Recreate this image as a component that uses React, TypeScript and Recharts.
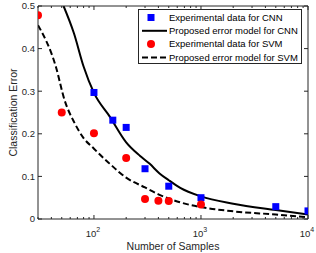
import React from "react";
import {
  ComposedChart,
  Line,
  Scatter,
  XAxis,
  YAxis,
  Legend,
} from "recharts";

// measured points
const cnnSamples = [100, 150, 200, 300, 500, 1000, 5000, 10000];
const cnnErrors = [0.297, 0.232, 0.215, 0.118, 0.077, 0.05, 0.029, 0.019];
const svmSamples = [30, 50, 100, 200, 300, 400, 500, 1000];
const svmErrors = [0.478, 0.25, 0.201, 0.143, 0.047, 0.043, 0.042, 0.034];

// model curves
const cnnModelN = [52, 65, 80, 100, 140, 200, 270, 330, 410, 500, 640, 1000, 2000, 5000, 10000];
const cnnModelErr = [0.5, 0.436, 0.358, 0.296, 0.241, 0.18, 0.148, 0.13, 0.107, 0.091, 0.073, 0.053, 0.036, 0.021, 0.0105];
const svmModelN = [30, 44, 53, 66, 80, 100, 140, 200, 300, 400, 500, 640, 1000, 2000, 5000, 10000];
const svmModelErr = [0.455, 0.358, 0.28, 0.225, 0.19, 0.165, 0.13, 0.097, 0.074, 0.058, 0.048, 0.039, 0.028, 0.018, 0.0105, 0.004];

const xMinor = [30, 40, 50, 60, 70, 80, 90, 100, 200, 300, 400, 500, 600, 700, 800, 900, 1000,
  2000, 3000, 4000, 5000, 6000, 7000, 8000, 9000, 10000];
const xMajor = [100, 1000, 10000];
const yTicks = [0, 0.1, 0.2, 0.3, 0.4, 0.5];

const legendItems = [
  { label: "Experimental data for CNN", kind: "square" },
  { label: "Proposed error model for CNN", kind: "solid" },
  { label: "Experimental data for SVM", kind: "circle" },
  { label: "Proposed error model for SVM", kind: "dashed" },
];

const toRows = (ns: number[], es: number[]) => ns.map((n, i) => ({ n, err: es[i] }));

const cnnData = toRows(cnnSamples, cnnErrors);
const svmData = toRows(svmSamples, svmErrors);
const cnnModel = toRows(cnnModelN, cnnModelErr);
const svmModel = toRows(svmModelN, svmModelErr);

const AXIS = "#262626";
const FONT = "'Liberation Sans', Arial, Helvetica, sans-serif";
const BLUE = "#0000ff";
const RED = "#ff0000";
const DASH = "6 3";

const BottomTick = (props: any) => {
  const { x, y, payload } = props;
  const v = payload.value;
  const major = xMajor.includes(v);
  return (
    <g>
      <line x1={x} x2={x} y1={y} y2={y - (major ? 4 : 2)} stroke={AXIS} />
      {major && (
        <text x={x - 1} y={y + 18} textAnchor="middle" fontSize={9.5} fill={AXIS} fontFamily={FONT}>
          10
          <tspan dy={-5} fontSize={7}>{Math.round(Math.log10(v))}</tspan>
        </text>
      )}
    </g>
  );
};

const TopTick = (props: any) => {
  const { x, y, payload } = props;
  const major = xMajor.includes(payload.value);
  return <line x1={x} x2={x} y1={y} y2={y + (major ? 4 : 2)} stroke={AXIS} />;
};

const LeftTick = (props: any) => {
  const { x, y, payload } = props;
  return (
    <g>
      <line x1={x} x2={x + 4} y1={y} y2={y} stroke={AXIS} />
      <text x={x - 3} y={y + 3.4} textAnchor="end" fontSize={9.5} fill={AXIS} fontFamily={FONT}>
        {String(payload.value)}
      </text>
    </g>
  );
};

const RightTick = (props: any) => {
  const { x, y } = props;
  return <line x1={x} x2={x - 4} y1={y} y2={y} stroke={AXIS} />;
};

const Square = (props: any) => {
  const { cx, cy } = props;
  return <rect x={cx - 3.5} y={cy - 3.5} width={7} height={7} fill={BLUE} />;
};

const Dot = (props: any) => {
  const { cx, cy } = props;
  return <circle cx={cx} cy={cy} r={4} fill={RED} />;
};

const LegendBox = () => (
  <svg width={164} height={55} style={{ display: "block" }}>
    <rect x={0.5} y={0.5} width={163} height={54} fill="#fff" stroke={AXIS} />
    {legendItems.map((it, i) => {
      const cy = 8.5 + i * 13.3;
      return (
        <g key={it.label}>
          {it.kind === "square" && <rect x={9.5} y={cy - 3.5} width={7} height={7} fill={BLUE} />}
          {it.kind === "circle" && <circle cx={13} cy={cy} r={4} fill={RED} />}
          {it.kind === "solid" && <line x1={4} x2={29} y1={cy} y2={cy} stroke="#000" strokeWidth={2} />}
          {it.kind === "dashed" && (
            <line x1={4} x2={29} y1={cy} y2={cy} stroke="#000" strokeWidth={2} strokeDasharray={DASH} />
          )}
          <text x={31} y={cy + 3.3} fontSize={9.5} fill="#000" fontFamily={FONT}>
            {it.label}
          </text>
        </g>
      );
    })}
  </svg>
);

export default function App() {
  return (
    <div style={{ position: "absolute", left: 0, top: 0, background: "#fff" }}>
      <ComposedChart width={316} height={253} margin={{ top: 0, right: 0, bottom: 0, left: 0 }}>
        <XAxis
          xAxisId="b"
          dataKey="n"
          type="number"
          scale="log"
          domain={[30, 10000]}
          allowDataOverflow
          ticks={xMinor}
          interval={0}
          height={34}
          tickSize={0}
          tickMargin={0}
          tickLine={false}
          tick={<BottomTick />}
          axisLine={{ stroke: AXIS }}
          label={{ value: "Number of Samples", position: "insideBottom", offset: 3, fontSize: 10.5, fill: AXIS, fontFamily: FONT }}
        />
        <XAxis
          xAxisId="t"
          dataKey="n"
          type="number"
          scale="log"
          orientation="top"
          domain={[30, 10000]}
          allowDataOverflow
          ticks={xMinor}
          interval={0}
          height={6}
          tickSize={0}
          tickMargin={0}
          tickLine={false}
          tick={<TopTick />}
          axisLine={{ stroke: AXIS }}
        />
        <YAxis
          yAxisId="l"
          dataKey="err"
          type="number"
          domain={[0, 0.5]}
          allowDataOverflow
          ticks={yTicks}
          interval={0}
          width={38}
          tickSize={0}
          tickMargin={0}
          tickLine={false}
          tick={<LeftTick />}
          axisLine={{ stroke: AXIS }}
          label={{ value: "Classification Error", angle: -90, position: "center", dx: -6, fontSize: 10.5, fill: AXIS, fontFamily: FONT }}
        />
        <YAxis
          yAxisId="r"
          orientation="right"
          type="number"
          domain={[0, 0.5]}
          allowDataOverflow
          ticks={yTicks}
          interval={0}
          width={8}
          tickSize={0}
          tickMargin={0}
          tickLine={false}
          tick={<RightTick />}
          axisLine={{ stroke: AXIS }}
        />
        <Line
          xAxisId="b"
          yAxisId="l"
          data={cnnModel}
          dataKey="err"
          type="monotone"
          stroke="#000"
          strokeWidth={2}
          dot={false}
          isAnimationActive={false}
        />
        <Line
          xAxisId="b"
          yAxisId="l"
          data={svmModel}
          dataKey="err"
          type="monotone"
          stroke="#000"
          strokeWidth={2}
          strokeDasharray={DASH}
          dot={false}
          isAnimationActive={false}
        />
        <Scatter xAxisId="b" yAxisId="l" data={cnnData} shape={<Square />} isAnimationActive={false} />
        <Scatter xAxisId="b" yAxisId="l" data={svmData} shape={<Dot />} isAnimationActive={false} />
        <Legend
          layout="horizontal"
          verticalAlign="middle"
          align="center"
          content={<LegendBox />}
          wrapperStyle={{ left: 138, top: 9, width: 164, height: 55 }}
        />
      </ComposedChart>
    </div>
  );
}
